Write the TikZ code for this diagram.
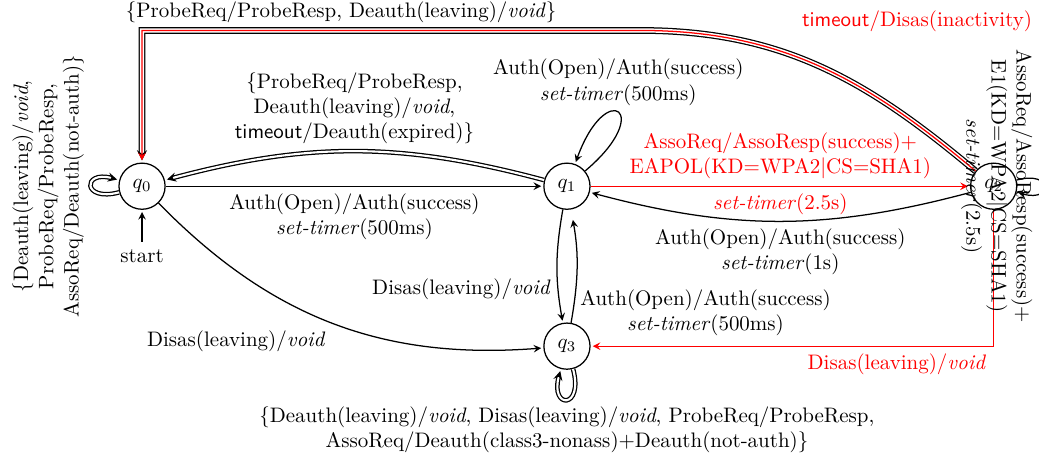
\documentclass[tikz,border=0pt]{standalone}
\usepackage{tikz}
\usetikzlibrary{automata,positioning,arrows.meta}

\tikzset{
  dbl/.style={double,double distance=1pt},
  lbl/.style={align=center},
}

\begin{document}
\begin{tikzpicture}[->,>=stealth,shorten >=1pt,semithick,node distance=7.12cm,on grid,
    every state/.style={draw,minimum size=22pt,inner sep=1pt},initial text=start,initial distance=3.5ex]
    \useasboundingbox (-2.38,-4.47) rectangle (15.03,3.12);
    \node[state,initial below] (q0) {$q_0$};
    \node[state] (q1) [right=of q0] {$q_1$};
    \node[state] (q2) [right=7.15cm of q1] {$q_2$};
    \node[state] (q3) [below=2.68cm of q1] {$q_3$};
    \coordinate (topturn) at (8.34,2.61);

    \draw[dbl] (q0) to[loop left] node[lbl,rotate=90,anchor=south]{\{Deauth(leaving)/\textit{void},\\ProbeReq/ProbeResp,\\AssoReq/Deauth(not-auth)\}} (q0);
    \draw (q0) -- node[lbl,below]{Auth(Open)/Auth(success)\\\textit{set-timer}(500ms)} (q1);
    \draw[dbl] (q1) to[bend right=15] node[lbl,above]{\{ProbeReq/ProbeResp,\\Deauth(leaving)/\textit{void},\\\textsf{timeout}/Deauth(expired)\}} (q0);
    \draw (q1) to[loop,out=40,in=70,min distance=1.54cm] node[lbl,above]{Auth(Open)/Auth(success)\\\textit{set-timer}(500ms)} (q1);
    \draw[red] (q1) -- node[lbl,above]{AssoReq/AssoResp(success)+\\EAPOL(KD=WPA2\textbar CS=SHA1)} node[below]{\textit{set-timer}(2.5s)} (q2);
    \draw (q2) to[bend left=15] node[lbl,below]{Auth(Open)/Auth(success)\\\textit{set-timer}(1s)} (q1);
    \draw (q1) to[bend right=10] node[pos=0.72,left]{Disas(leaving)/\textit{void}} (q3);
    \draw[shorten >=5pt] (q3) to[bend right=10] node[lbl,pos=0.08,right]{Auth(Open)/Auth(success)\\\textit{set-timer}(500ms)} (q1);
    \draw (q0) to[bend right=25] node[below left]{Disas(leaving)/\textit{void}} (q3);
    \draw[red] (q2) |- node[below left]{Disas(leaving)/\textit{void}} (q3);
    \draw[dbl,double distance=2pt] (q2) to[out=140,in=0] (topturn) -| node[pos=0.3,above]{\{ProbeReq/ProbeResp, Deauth(leaving)/\textit{void}\}} (q0);
    \draw[red] (q2) to[out=140,in=0] node[pos=0.58,above right,yshift=8pt]{\textsf{timeout}/Disas(inactivity)} (topturn) -| (q0);
    \draw (q2) to[loop right] (q2);
    \node[lbl,rotate=-90] (q2note) at ([xshift=1.5pt]q2.center) {AssoReq/AssoResp(success)+\\E1(KD=WPA2\textbar CS=SHA1)\\\textit{set-timer}(2.5s)};
    \draw[dbl] (q3) to[loop,out=-75,in=-105,min distance=7mm] node[lbl,below]{\{Deauth(leaving)/\textit{void}, Disas(leaving)/\textit{void}, ProbeReq/ProbeResp,\\AssoReq/Deauth(class3-nonass)+Deauth(not-auth)\}} (q3);
\end{tikzpicture}
\end{document}
